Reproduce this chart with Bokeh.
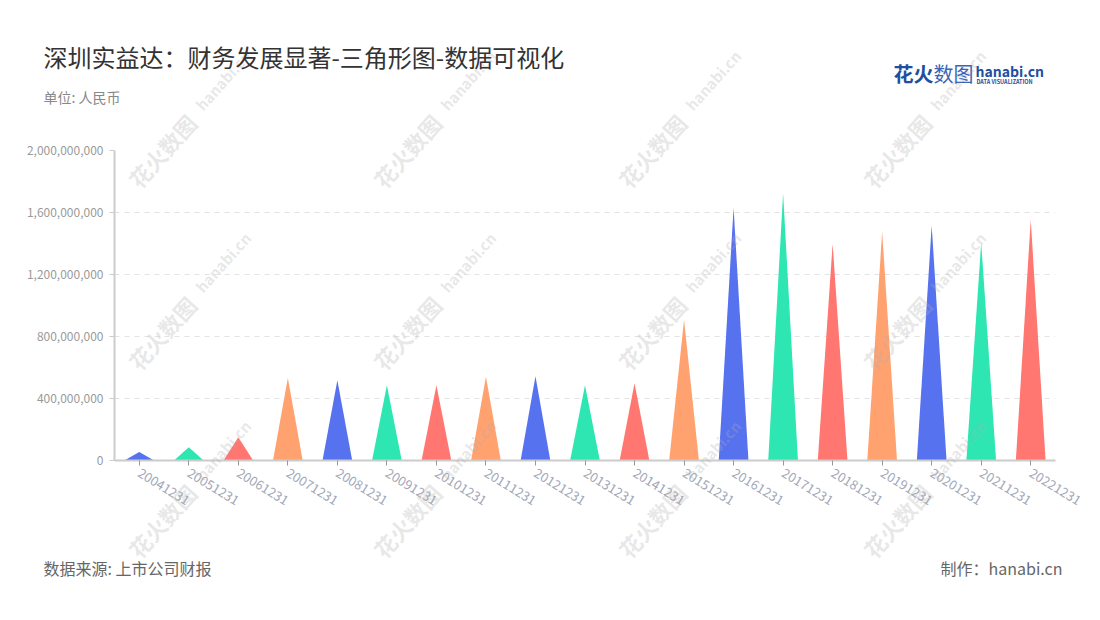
from bokeh.plotting import figure
from bokeh.models import (Label, FixedTicker, NumeralTickFormatter, ColumnDataSource, Range1d)
from bokeh.embed import file_html
from bokeh.resources import INLINE

categories = ["20041231", "20051231", "20061231", "20071231", "20081231", "20091231",
              "20101231", "20111231", "20121231", "20131231", "20141231", "20151231",
              "20161231", "20171231", "20181231", "20191231", "20201231", "20211231",
              "20221231"]
values = [55e6, 86e6, 150e6, 533e6, 518e6, 486e6, 486e6, 540e6, 544e6, 486e6,
          499e6, 908e6, 1630e6, 1725e6, 1398e6, 1477e6, 1516e6, 1406e6, 1553e6]
palette = ["#5672EE", "#2EE6B1", "#FF7770", "#FFA270"]
y_ticks = [0, 400e6, 800e6, 1200e6, 1600e6, 2000e6]

title_text = "深圳实益达：财务发展显著-三角形图-数据可视化"
unit_text = "单位: 人民币"
source_text = "数据来源: 上市公司财报"
credit_text = "制作：hanabi.cn"

W, H = 1100, 620
FONT = "Noto Sans CJK SC"
FRAME_L, FRAME_R, FRAME_T, FRAME_B = 114, 1055, 150, 460

WM_COLS = [132, 377, 622, 867]
WM_ROWS = [183, 365, 553]
WM_ANGLE = 0.84

# ---------- main chart ----------
p = figure(width=W, height=H, output_backend="svg", toolbar_location=None,
           x_range=Range1d(-0.5, len(categories) - 0.5), y_range=Range1d(0, 2000e6),
           min_border_left=FRAME_L, min_border_right=W - FRAME_R,
           min_border_top=FRAME_T, min_border_bottom=H - FRAME_B)
p.outline_line_color = None

half = 0.3
xs = [[i - half, i, i + half] for i in range(len(categories))]
ys = [[0, v, 0] for v in values]
colors = [palette[i % 4] for i in range(len(categories))]
src = ColumnDataSource(dict(xs=xs, ys=ys, color=colors))
p.patches("xs", "ys", source=src, fill_color="color", line_color=None)

p.xgrid.visible = False
p.ygrid.grid_line_color = "#e3e3e3"
p.ygrid.grid_line_dash = "5 5"
p.ygrid.grid_line_width = 1

p.yaxis.ticker = FixedTicker(ticks=y_ticks)
p.yaxis.formatter = NumeralTickFormatter(format="0,0")
p.yaxis.axis_line_color = "#cccccc"
p.yaxis.axis_line_width = 2
p.yaxis.major_tick_line_color = "#cccccc"
p.yaxis.major_tick_out = 5
p.yaxis.major_tick_in = 0
p.yaxis.minor_tick_line_color = None
p.yaxis.major_label_text_color = "#9a9a9a"
p.yaxis.major_label_text_font = FONT
p.yaxis.major_label_text_font_size = "12px"
p.yaxis.major_label_standoff = 6

p.xaxis.ticker = FixedTicker(ticks=list(range(len(categories))))
p.xaxis.major_label_overrides = {i: c for i, c in enumerate(categories)}
p.xaxis.axis_line_color = "#cccccc"
p.xaxis.axis_line_width = 2
p.xaxis.major_tick_line_color = "#999999"
p.xaxis.major_tick_out = 5
p.xaxis.major_tick_in = 0
p.xaxis.minor_tick_line_color = None
p.xaxis.major_label_orientation = -0.55
p.xaxis.major_label_text_color = "#a3a8b8"
p.xaxis.major_label_text_font = FONT
p.xaxis.major_label_text_font_size = "13px"
p.xaxis.major_label_standoff = 6

# ---------- text overlay (whole page, transparent) ----------
ov = figure(width=W, height=H, output_backend="svg", toolbar_location=None,
            x_range=Range1d(0, W), y_range=Range1d(H, 0),
            x_axis_location=None, y_axis_location=None,
            min_border=0, min_border_left=0, min_border_right=0,
            min_border_top=0, min_border_bottom=0)
ov.outline_line_color = None
ov.grid.visible = False
ov.background_fill_color = None
ov.border_fill_color = None
ov.styles = {"position": "absolute", "top": "0px", "left": "0px"}


def lbl(text, x, y, size, color, align="left", style="normal", angle=0.0, alpha=1.0):
    ov.add_layout(Label(x=x, y=y, text=text, text_font=FONT, text_font_size=size,
                        text_color=color, text_align=align, text_baseline="middle",
                        text_font_style=style, angle=angle, text_alpha=alpha))


for cx in WM_COLS:
    for cy in WM_ROWS:
        lbl("花火数图", cx, cy, "22px", "#b0b0b0", style="bold", angle=WM_ANGLE, alpha=0.3)
        lbl("hanabi.cn", cx + 66, cy - 76, "15px", "#b0b0b0", style="bold", angle=WM_ANGLE, alpha=0.3)

lbl(title_text, 43, 56, "24px", "#333333")
lbl(unit_text, 43, 96, "14px", "#888888")
lbl(source_text, 43, 567, "16px", "#666666")
lbl(credit_text, 1062, 567, "16px", "#666666", align="right")

lbl("花火", 893, 73, "20px", "#1f4fa0", style="bold")
lbl("数图", 933, 73, "20px", "#3a66b5")
lbl("hanabi.cn", 975, 70, "14px", "#1f4fa0", style="bold")
lbl("DATA VISUALIZATION", 976, 81, "5.5px", "#1f4fa0", style="bold")

open("out.html", "w").write(file_html([p, ov], INLINE))
